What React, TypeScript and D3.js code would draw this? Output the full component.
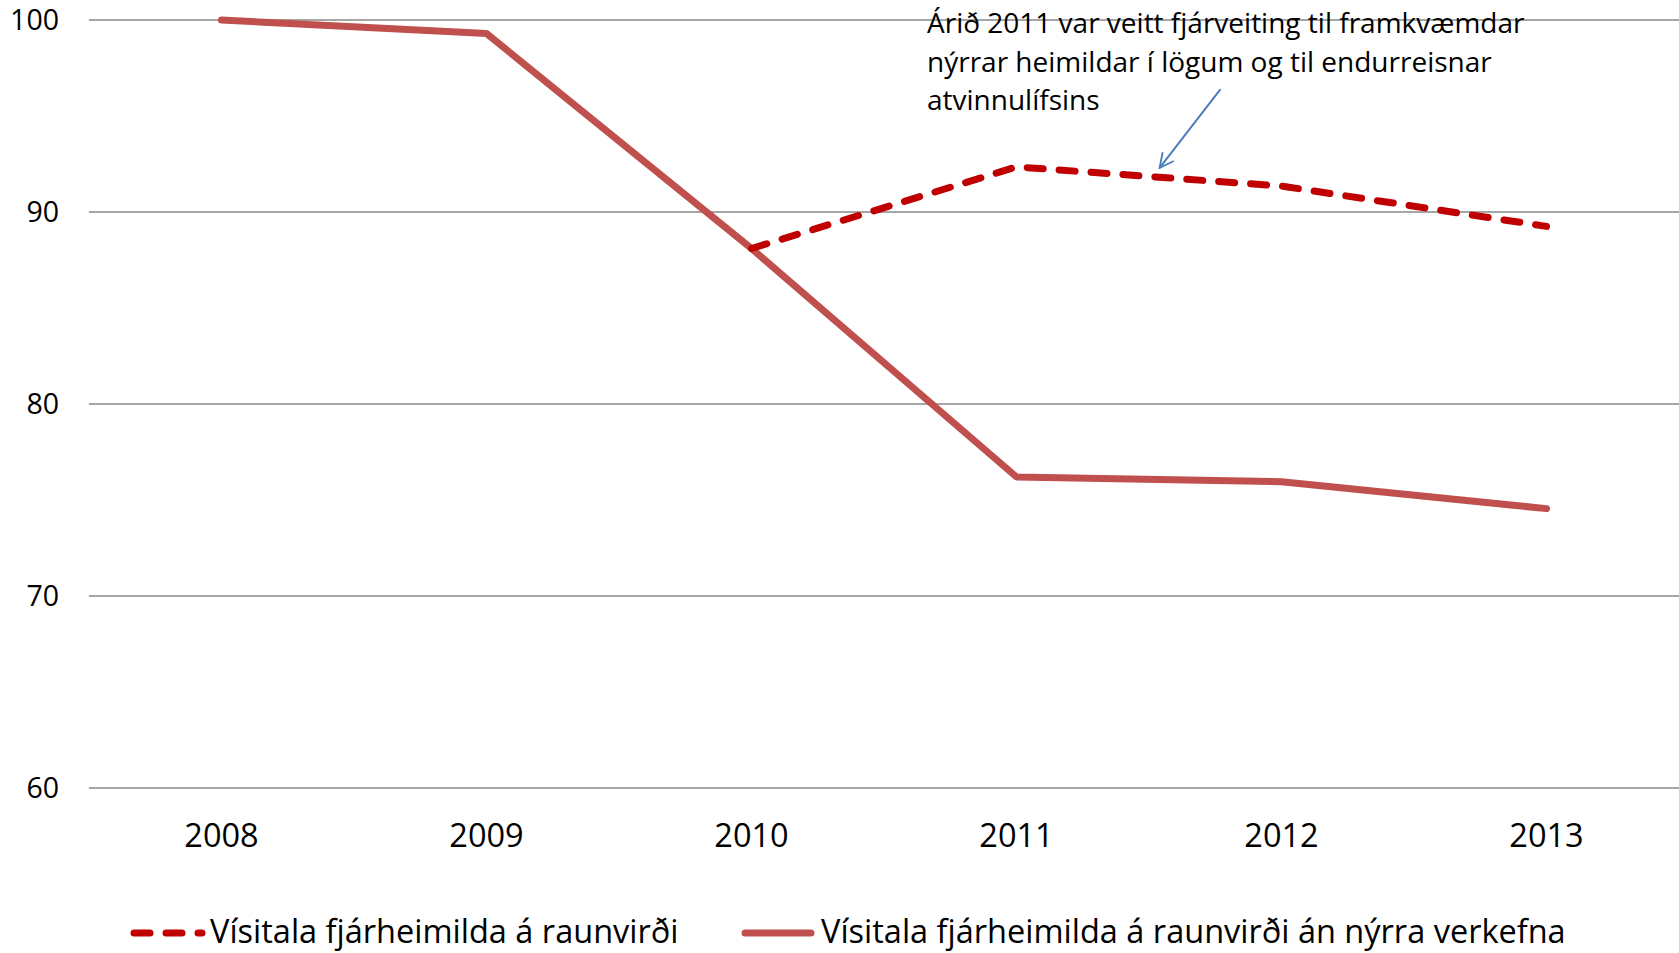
import * as d3 from 'd3';
import React, { useEffect, useRef } from 'react';

const years = ['2008', '2009', '2010', '2011', '2012', '2013'];
const withNew = [null, null, 88.1, 92.35, 91.35, 89.25];
const withoutNew = [100, 99.3, 88.1, 76.2, 75.95, 74.55];
const yTicks = [60, 70, 80, 90, 100];
const legendLabels = ['Vísitala fjárheimilda á raunvirði', 'Vísitala fjárheimilda á raunvirði án nýrra verkefna'];
const noteLines = [
  'Árið 2011 var veitt fjárveiting til framkvæmdar',
  'nýrrar heimildar í lögum og til endurreisnar',
  'atvinnulífsins',
];

const W = 1679;
const H = 953;
const FONT = "'Open Sans', 'DejaVu Sans', sans-serif";

const App = () => {
  const svgRef = useRef(null);

  useEffect(() => {
    const svg = d3.select(svgRef.current);
    svg.selectAll('*').remove();

    const x = d3.scalePoint().domain(years).range([89, W]).padding(0.5);
    const y = d3.scaleLinear().domain([60, 100]).range([788, 20]);
    const step = x.step();

    // gridlines + y labels
    const grid = svg.append('g');
    grid.selectAll('line')
      .data(yTicks)
      .enter()
      .append('line')
      .attr('x1', 89)
      .attr('x2', W)
      .attr('y1', d => y(d))
      .attr('y2', d => y(d))
      .attr('stroke', '#888888')
      .attr('stroke-width', 1.6);

    grid.selectAll('text')
      .data(yTicks)
      .enter()
      .append('text')
      .attr('x', 59)
      .attr('y', d => y(d))
      .attr('dy', '0.36em')
      .attr('text-anchor', 'end')
      .attr('font-family', FONT)
      .attr('font-size', '28.5px')
      .text(d => d);

    // x labels
    svg.append('g').selectAll('text')
      .data(years)
      .enter()
      .append('text')
      .attr('x', d => x(d))
      .attr('y', 835)
      .attr('dy', '0.36em')
      .attr('text-anchor', 'middle')
      .attr('font-family', FONT)
      .attr('font-size', '32.5px')
      .text(d => d);

    const line = d3.line()
      .defined(d => d[1] != null)
      .x(d => x(d[0]))
      .y(d => y(d[1]));

    svg.append('path')
      .datum(years.map((yr, i) => [yr, withoutNew[i]]))
      .attr('fill', 'none')
      .attr('stroke', '#c0504d')
      .attr('stroke-width', 7)
      .attr('stroke-linecap', 'round')
      .attr('stroke-linejoin', 'round')
      .attr('d', line);

    svg.append('path')
      .datum(years.map((yr, i) => [yr, withNew[i]]))
      .attr('fill', 'none')
      .attr('stroke', '#c00000')
      .attr('stroke-width', 7)
      .attr('stroke-linecap', 'round')
      .attr('stroke-linejoin', 'round')
      .attr('stroke-dasharray', '16 16')
      .attr('d', line);

    // annotation
    const note = svg.append('text')
      .attr('font-family', FONT)
      .attr('font-size', '28px')
      .attr('fill', '#000');
    noteLines.forEach((t, i) => {
      note.append('tspan')
        .attr('x', 927)
        .attr('y', 23 + i * 38.6)
        .attr('dy', '0.36em')
        .text(t);
    });

    svg.append('defs').append('marker')
      .attr('id', 'openArrow')
      .attr('viewBox', '0 0 12 12')
      .attr('refX', 11)
      .attr('refY', 6)
      .attr('markerWidth', 17)
      .attr('markerHeight', 17)
      .attr('markerUnits', 'userSpaceOnUse')
      .attr('orient', 'auto')
      .append('path')
      .attr('d', 'M1,1 L11,6 L1,11')
      .attr('fill', 'none')
      .attr('stroke', '#4a7ebb')
      .attr('stroke-width', 1.3);

    const x2011 = x('2011');
    svg.append('line')
      .attr('x1', x2011 + step * 0.77)
      .attr('y1', y(96.4))
      .attr('x2', x2011 + step * 0.54)
      .attr('y2', y(92.3))
      .attr('stroke', '#4a7ebb')
      .attr('stroke-width', 2)
      .attr('marker-end', 'url(#openArrow)');

    // legend
    const legendItems = [
      { label: legendLabels[0], x0: 134, len: 68, color: '#c00000', dash: '16 16' },
      { label: legendLabels[1], x0: 745, len: 66, color: '#c0504d', dash: null },
    ];
    const lg = svg.append('g');
    legendItems.forEach(item => {
      lg.append('line')
        .attr('x1', item.x0)
        .attr('x2', item.x0 + item.len)
        .attr('y1', 933)
        .attr('y2', 933)
        .attr('stroke', item.color)
        .attr('stroke-width', 7)
        .attr('stroke-linecap', 'round')
        .attr('stroke-dasharray', item.dash);
      lg.append('text')
        .attr('x', item.x0 + 76)
        .attr('y', 931)
        .attr('dy', '0.36em')
        .attr('font-family', FONT)
        .attr('font-size', '32.5px')
        .text(item.label);
    });
  }, []);

  return (
    <svg
      ref={svgRef}
      width={W}
      height={H}
      style={{ position: 'absolute', left: 0, top: 0, background: '#fff' }}
    />
  );
};

export default App;
